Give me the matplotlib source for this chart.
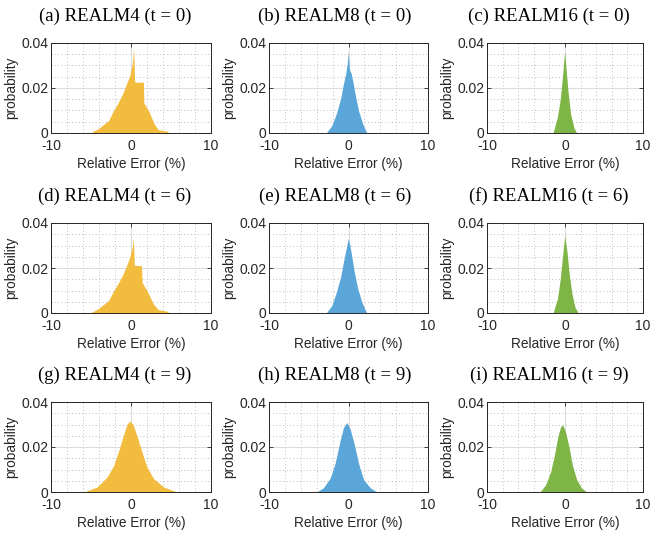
import matplotlib
matplotlib.use("Agg")
import matplotlib.pyplot as plt
from matplotlib.ticker import MultipleLocator

plt.rcParams["axes.unicode_minus"] = False
plt.rcParams["font.family"] = ["Liberation Sans", "DejaVu Sans"]

# outline of each histogram: relative error (%) and probability
x_a = [-5.1, -4.1, -2.8, -2.2, -1.6, -1.0, -0.54, -0.13, 0.17, 0.33, 0.46, 0.5, 1.55, 1.6, 2.2, 2.9, 3.4, 4.4, 4.9]
p_a = [0, 0.0019, 0.0055, 0.0099, 0.0135, 0.0178, 0.022, 0.0258, 0.031, 0.0374, 0.0229, 0.0226, 0.0226, 0.0135, 0.0099, 0.004, 0.0015, 0.0009, 0]

x_b = [-2.8, -2.1, -1.47, -0.97, -0.63, -0.34, -0.13, -0.04, 0.13, 0.34, 0.55, 0.84, 1.26, 1.8, 2.3]
p_b = [0, 0.0033, 0.0091, 0.0157, 0.022, 0.0265, 0.0316, 0.036, 0.028, 0.0265, 0.0229, 0.0171, 0.0099, 0.004, 0]

x_c = [-1.53, -0.98, -0.64, -0.34, -0.13, -0.04, 0.13, 0.38, 0.72, 1.15, 1.5]
p_c = [0, 0.007, 0.0142, 0.0243, 0.033, 0.036, 0.0287, 0.0186, 0.0084, 0.0023, 0]

x_d = [-5.1, -4.1, -2.8, -2.2, -1.6, -1.0, -0.54, -0.13, 0.17, 0.3, 0.42, 0.46, 1.3, 1.4, 2.0, 2.8, 3.4, 4.4, 4.9]
p_d = [0, 0.0019, 0.0055, 0.0097, 0.0132, 0.0172, 0.0212, 0.025, 0.0295, 0.033, 0.0215, 0.0212, 0.021, 0.0135, 0.0099, 0.004, 0.0015, 0.0009, 0]

x_e = [-2.8, -2.1, -1.47, -0.97, -0.55, -0.21, -0.04, 0.13, 0.42, 0.71, 1.13, 1.68, 2.3]
p_e = [0, 0.0033, 0.0099, 0.0164, 0.0243, 0.030, 0.033, 0.031, 0.025, 0.0186, 0.0113, 0.0048, 0]

x_f = [-1.53, -0.98, -0.64, -0.34, -0.04, 0.26, 0.55, 0.9, 1.28, 1.7]
p_f = [0, 0.0062, 0.0142, 0.0243, 0.0345, 0.0272, 0.0171, 0.0084, 0.0026, 0]

x_g = [-5.9, -4.25, -3.0, -2.17, -1.54, -0.92, -0.5, -0.17, 0.25, 0.75, 1.38, 2.0, 2.83, 4.1, 5.75]
p_g = [0, 0.0022, 0.0066, 0.0117, 0.0183, 0.0256, 0.030, 0.0315, 0.030, 0.0249, 0.0176, 0.011, 0.0059, 0.0022, 0]

x_h = [-4.0, -3.15, -2.3, -1.68, -1.05, -0.63, -0.21, 0.21, 0.71, 1.26, 1.89, 2.73, 3.57]
p_h = [0, 0.0019, 0.0062, 0.0128, 0.0229, 0.0287, 0.0309, 0.028, 0.0214, 0.0128, 0.0055, 0.0019, 0]

x_i = [-3.2, -2.47, -1.83, -1.32, -0.9, -0.55, -0.3, 0.09, 0.51, 0.94, 1.5, 2.1, 2.77]
p_i = [0, 0.0033, 0.0091, 0.0171, 0.025, 0.029, 0.0299, 0.0265, 0.02, 0.012, 0.0055, 0.0019, 0]

titles = ["(a) REALM4 (t = 0)", "(b) REALM8 (t = 0)", "(c) REALM16 (t = 0)",
          "(d) REALM4 (t = 6)", "(e) REALM8 (t = 6)", "(f) REALM16 (t = 6)",
          "(g) REALM4 (t = 9)", "(h) REALM8 (t = 9)", "(i) REALM16 (t = 9)"]
series = [(x_a, p_a), (x_b, p_b), (x_c, p_c),
          (x_d, p_d), (x_e, p_e), (x_f, p_f),
          (x_g, p_g), (x_h, p_h), (x_i, p_i)]
colors = ["#F2BC3E", "#5BA6D9", "#7FB547"]

W, H = 650, 533
fig = plt.figure(figsize=(W / 100, H / 100), dpi=100)

col_left = [51, 269, 487]
col_width = [160, 159, 156]
title_center = [115, 335, 549]   # captions sit centred on the whole subfigure
row_top = [43, 223, 402]
row_height = 90

for k in range(9):
    r, c = divmod(k, 3)
    ax = fig.add_axes([col_left[c] / W, 1 - (row_top[r] + row_height) / H,
                       col_width[c] / W, row_height / H])
    x, p = series[k]
    ax.fill_between(x, p, 0, color=colors[c], lw=0, zorder=2)
    ax.set_xlim(-10, 10)
    ax.set_ylim(0, 0.04)
    ax.set_xticks([-10, 0, 10])
    ax.set_xticklabels(["-10", "0", "10"])
    ax.set_yticks([0, 0.02, 0.04])
    ax.set_yticklabels(["0", "0.02", "0.04"])
    ax.xaxis.set_minor_locator(MultipleLocator(2))
    ax.yaxis.set_minor_locator(MultipleLocator(0.005))
    ax.grid(True, which="major", color="#dcdcdc", lw=0.8, zorder=0)
    ax.grid(True, which="minor", color="#bdbdbd", lw=0.7, ls=(0, (1, 2.5)), zorder=0)
    ax.set_axisbelow(True)
    ax.tick_params(which="major", direction="in", length=3, width=0.6,
                   top=True, right=True, labelsize=10, colors="#262626", pad=2)
    ax.tick_params(which="major", axis="x", pad=4)
    ax.tick_params(which="minor", length=0)
    for s in ax.spines.values():
        s.set_color("#262626")
        s.set_linewidth(0.7)
    ax.set_xlabel("Relative Error (%)", fontsize=9.8, color="#262626", labelpad=3)
    ax.set_ylabel("probability", fontsize=9.8, color="#262626", labelpad=2)
    tx = (title_center[c] - col_left[c]) / col_width[c]
    ax.set_title(titles[k], fontsize=13.5, family=["Liberation Serif", "DejaVu Serif"],
                 pad=16, x=tx)

fig.savefig("out.png", dpi=100)
